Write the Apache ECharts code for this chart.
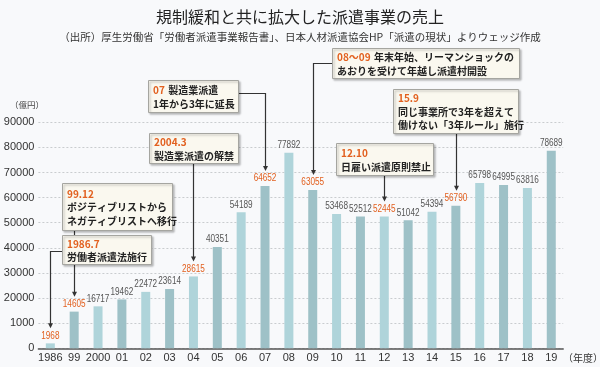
<!DOCTYPE html>
<html><head><meta charset="utf-8">
<script src="https://cdn.jsdelivr.net/npm/echarts@6/dist/echarts.min.js"></script>
<style>html,body{margin:0;padding:0;background:#f8f9fb}#c{width:600px;height:367px}</style>
</head><body><div id="c"></div>
<script>
// ---- data ----
const categories = ['1986','99','2000','01','02','03','04','05','06','07','08','09','10','11','12','13','14','15','16','17','18','19'];
const sales = [1968,14605,16717,19462,22472,23614,28615,40351,54189,64652,77892,63055,53468,52512,52445,51042,54394,56790,65798,64995,63816,78689];
const highlighted = ['1986','99','04','07','09','12','15'];
const yTickLabels = ['0','1000','20000','30000','40000','50000','60000','70000','80000','90000'];
const titleText = '規制緩和と共に拡大した派遣事業の売上';
const subText = '（出所）厚生労働省「労働者派遣事業報告書」、日本人材派遣協会HP「派遣の現状」よりウェッジ作成';
const yUnit = '（億円）';
const xUnit = '（年度）';
const noteCats = ['1986','99','04','07','09','12','15'];
const noteDates = ['1986.7','99.12','2004.3','07','08～09','12.10','15.9'];
const noteTexts = [
  ['労働者派遣法施行'],
  ['ポジティブリストから','ネガティブリストへ移行'],
  ['製造業派遣の解禁'],
  ['製造業派遣','1年から3年に延長'],
  ['年末年始、リーマンショックの','あおりを受けて年越し派遣村開設'],
  ['日雇い派遣原則禁止'],
  ['同じ事業所で3年を超えて','働けない「3年ルール」施行']
];

// ---- layout / styles ----
const JP = '"Noto Sans CJK JP", "Noto Sans", sans-serif';
const NUM = '"Liberation Sans", "Roboto", sans-serif';
const ORANGE = '#e2601f';
const LIGHT = '#afd4da', DARK = '#9ec1c7';
const boxLayout = [
  {x:62, y:235, w:89, h:29, inline:false, side:'left', ay:251},
  {x:62, y:183, w:110, h:47, inline:false, side:'bottom'},
  {x:149, y:133, w:89, h:30, inline:false, side:'bottom'},
  {x:148, y:80, w:90, h:32, inline:true, side:'right', ay:93},
  {x:332, y:48, w:187, h:30, inline:true, side:'left', ay:63},
  {x:336, y:143, w:97, h:32, inline:false, side:'bottom'},
  {x:393, y:89, w:125, h:44, inline:false, side:'bottom'}
];

const chart = echarts.init(document.getElementById('c'));
chart.setOption({
  backgroundColor:'#f8f9fb',
  animation:false,
  title:{
    text:titleText, subtext:subText, left:'center', top:4, itemGap:7,
    textStyle:{fontFamily:JP, fontSize:16, fontWeight:'normal', color:'#222'},
    subtextStyle:{fontFamily:JP, fontSize:10.5, color:'#333'}
  },
  grid:{left:38.4, right:36.8, top:122.3, bottom:18.7},
  xAxis:{
    type:'category', data:categories,
    axisTick:{show:false},
    axisLine:{lineStyle:{color:'#555', width:1.5}},
    axisLabel:{margin:4, fontFamily:NUM, fontSize:11, color:'#333', interval:0}
  },
  yAxis:{
    type:'value', min:0, max:90000, interval:10000,
    axisLine:{show:false}, axisTick:{show:false},
    splitLine:{lineStyle:{type:[2,2], color:'#c9cccf'}},
    axisLabel:{formatter:(v)=>yTickLabels[Math.round(v/10000)], margin:4, fontFamily:NUM, fontSize:11, color:'#333', padding:[0,0,7,0]}
  },
  series:[{
    type:'bar', barWidth:9,
    data:sales.map((v,i)=>({value:v, itemStyle:{color: i%2 ? DARK : LIGHT}}))
  },{
    type:'custom', z:5,
    data:sales.map((v,i)=>[i, v]),
    renderItem:(params, api) => {
      const i = api.value(0), v = api.value(1);
      const p = api.coord([i, v]);
      return {type:'text', x:p[0], y:p[1]-2, scaleX:0.78,
        style:{text:String(v), align:'center', verticalAlign:'bottom',
          font:'10.5px ' + NUM,
          fill: highlighted.includes(categories[i]) ? ORANGE : '#555'}};
    }
  }]
});

// ---- annotations ----
const lines = [], boxes = [];
noteCats.forEach((cat, k) => {
  const idx = categories.indexOf(cat);
  const p = chart.convertToPixel({seriesIndex:0}, [idx, sales[idx]]);
  const tx = Math.round(p[0]) + 0.5, ty = p[1] - 15;
  const b = boxLayout[k];
  let pts;
  if (b.side === 'left') pts = [[b.x, b.ay+0.5],[tx, b.ay+0.5],[tx, ty-4]];
  else if (b.side === 'right') pts = [[b.x+b.w, b.ay+0.5],[tx, b.ay+0.5],[tx, ty-4]];
  else pts = [[tx, b.y+b.h],[tx, ty-4]];
  lines.push({type:'polyline', z:10, shape:{points:pts}, style:{stroke:'#333', lineWidth:1.2, fill:null}});
  lines.push({type:'polygon', z:10, shape:{points:[[tx-2.5, ty-5],[tx+2.5, ty-5],[tx, ty]]}, style:{fill:'#333'}});
  boxes.push({type:'rect', z:20, shape:{x:b.x+0.5, y:b.y+0.5, width:b.w, height:b.h},
    style:{fill:'#faf8ef', stroke:'#a5a5a0', lineWidth:1, shadowBlur:2, shadowOffsetX:1.5, shadowOffsetY:1.5, shadowColor:'rgba(0,0,0,0.25)'}});
  const t = noteTexts[k];
  let rich;
  if (b.inline) rich = '{o|' + noteDates[k] + '} {t|' + t[0] + '}' + t.slice(1).map(s=>'\n{t|'+s+'}').join('');
  else rich = '{o|' + noteDates[k] + '}' + t.map(s=>'\n{t|'+s+'}').join('');
  boxes.push({type:'text', z:21, x:b.x+5, y:b.y+b.h/2+1,
    style:{text:rich, align:'left', verticalAlign:'middle',
      rich:{
        o:{fill:ORANGE, fontFamily:JP, fontSize:10, fontWeight:'bold', lineHeight:13.5},
        t:{fill:'#222', fontFamily:JP, fontSize:10, fontWeight:'bold', lineHeight:13.5}
      }}});
});
const units = [
  {type:'text', x:27, y:105, style:{text:yUnit, align:'center', verticalAlign:'middle', fontFamily:JP, fontSize:8.5, fill:'#444'}},
  {type:'text', x:563, y:358, style:{text:xUnit, align:'left', verticalAlign:'middle', fontFamily:JP, fontSize:10, fill:'#333'}}
];
chart.setOption({graphic: lines.concat(boxes, units)});
</script>
</body></html>
